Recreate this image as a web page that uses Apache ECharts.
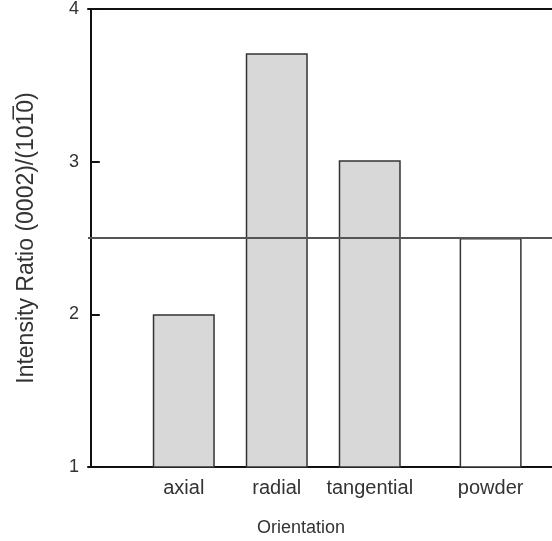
<!DOCTYPE html>
<html><head><meta charset="utf-8">
<script src="https://cdn.jsdelivr.net/npm/echarts@6/dist/echarts.min.js"></script>
<style>html,body{margin:0;padding:0;background:#fff}#c{width:552px;height:541px}</style>
</head><body><div id="c"></div>
<script>
const categories = ['axial', 'radial', 'tangential', 'powder'];
const categoryPositions = [1, 2, 3, 4.3];
const ratios = [2.0, 3.71, 3.01, 2.5];
const referenceRatio = 2.5;
const yTicks = [1, 2, 3, 4];

const FONT = '"Liberation Sans", Arial, sans-serif';
const chart = echarts.init(document.getElementById('c'));
const fills = ['#d8d8d8', '#d8d8d8', '#d8d8d8', '#ffffff'];
chart.setOption({
  animation: false,
  grid: { left: 88, top: 5, right: 0, bottom: 74, show: false },
  xAxis: [{
    type: 'value', min: -0.03, max: 4.96,
    axisLine: { show: true, onZero: false, lineStyle: { color: '#111', width: 2 } },
    axisTick: { show: false },
    splitLine: { show: false },
    axisLabel: {
      customValues: categoryPositions,
      formatter: v => { const i = categoryPositions.findIndex(p => Math.abs(p - v) < 1e-6); return i >= 0 ? categories[i] : ''; },
      fontFamily: FONT, fontSize: 20, color: '#333', margin: 11
    }
  }, {
    type: 'value', min: -0.03, max: 4.96, position: 'top',
    axisLine: { show: true, onZero: false, lineStyle: { color: '#111', width: 2 } },
    axisTick: { show: false }, axisLabel: { show: false }, splitLine: { show: false }
  }],
  yAxis: {
    type: 'value', min: 1, max: 4, interval: 1,
    name: 'Intensity Ratio (0002)/(101\u03050)',
    nameLocation: 'middle', nameGap: 50,
    nameTextStyle: { fontFamily: FONT, fontSize: 23, color: '#333' },
    axisLine: { show: true, lineStyle: { color: '#111', width: 2 } },
    axisTick: { show: true, inside: true, length: 9, lineStyle: { color: '#111', width: 2 } },
    splitLine: { show: false },
    axisLabel: { fontFamily: FONT, fontSize: 18, color: '#333', margin: 9,
      formatter: v => yTicks.includes(v) ? String(v) : '' }
  },
  graphic: [{
    type: 'text', x: 301, y: 528,
    style: { text: 'Orientation', fill: '#333', font: '18px "Liberation Sans", Arial, sans-serif', align: 'center', verticalAlign: 'middle' }
  }],
  series: [{
    type: 'bar', barWidth: 62,
    data: ratios.map((r, i) => ({ value: [categoryPositions[i], r], itemStyle: { color: fills[i] } })),
    itemStyle: { borderColor: '#333', borderWidth: 1.5 },
    markLine: {
      symbol: 'none', silent: true, label: { show: false },
      lineStyle: { color: '#555', width: 2, type: 'solid' },
      data: [{ yAxis: referenceRatio }]
    }
  }]
});
</script></body></html>
